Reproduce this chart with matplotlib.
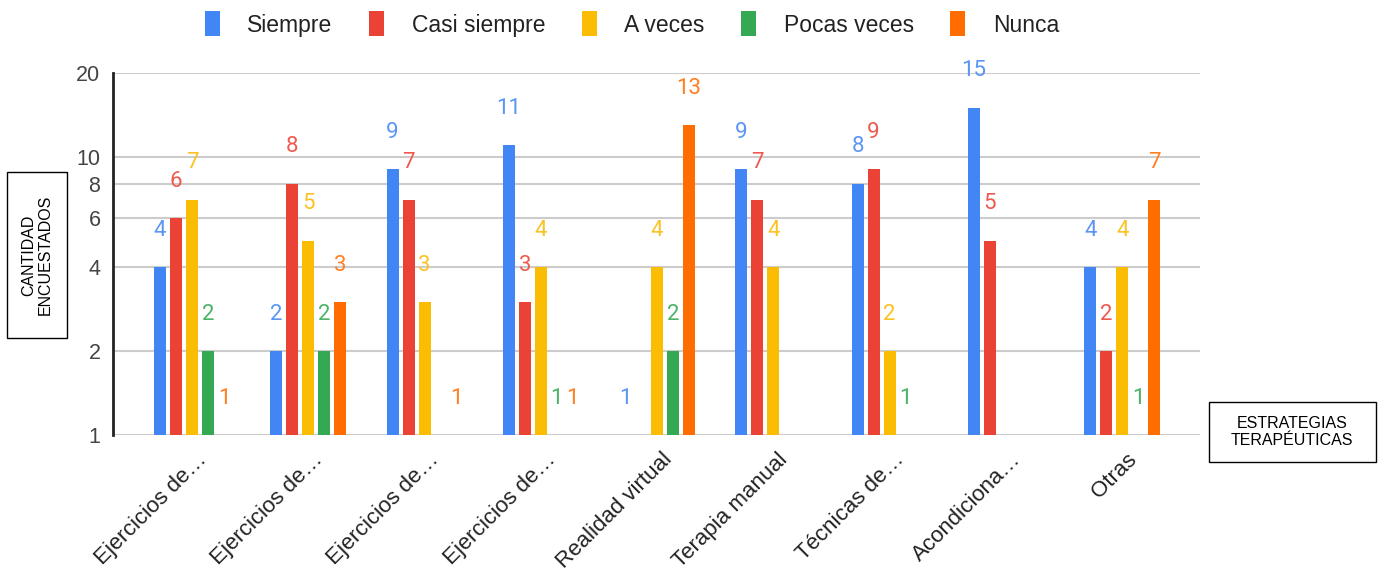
import matplotlib.pyplot as plt
import matplotlib.transforms as mtransforms
from matplotlib.patches import Rectangle
import numpy as np
from matplotlib.ticker import FixedLocator, FixedFormatter, NullLocator

categories = ['Ejercicios de…', 'Ejercicios de…', 'Ejercicios de…', 'Ejercicios de…',
              'Realidad virtual', 'Terapia manual', 'Técnicas de…', 'Acondiciona…', 'Otras']

series_names = ['Siempre', 'Casi siempre', 'A veces', 'Pocas veces', 'Nunca']
siempre = [4, 2, 9, 11, 1, 9, 8, 15, 4]
casi_siempre = [6, 8, 7, 3, None, 7, 9, 5, 2]
a_veces = [7, 5, 3, 4, 4, 4, 2, None, 4]
pocas_veces = [2, 2, None, 1, 2, None, 1, None, 1]
nunca = [1, 3, 1, 1, 13, None, None, None, 7]

y_ticks = [1, 2, 4, 6, 8, 10, 20]

colors = ['#4285F4', '#EA4335', '#FBBC04', '#34A853', '#FF6D01']
label_colors = ['#5B95F5', '#EE5A4F', '#FBC224', '#4CB366', '#FF7F22']

W, H = 1383, 573
fig = plt.figure(figsize=(W / 100, H / 100), dpi=100)
ax = fig.add_axes([0.0817, 0.2408, 0.7860, 0.6318])
ax.set_yscale('log')

x = np.arange(len(categories))
width = 0.103
step = 0.1376

all_series = [siempre, casi_siempre, a_veces, pocas_veces, nunca]
for i, (name, vals) in enumerate(zip(series_names, all_series)):
    xs = x + (i - 2) * step
    for xi, v in zip(xs, vals):
        if v is None:
            continue
        ax.bar(xi, v - 1, bottom=1, width=width, color=colors[i], zorder=3)
        ax.annotate(str(v), (xi, v), xytext=(0, 19), textcoords='offset points',
                    ha='center', va='bottom', fontsize=16, family='Roboto',
                    color=label_colors[i], zorder=4)
    # proxy for legend
    ax.bar(0, 0, bottom=1, width=0, color=colors[i], label=name)

ax.set_xlim(-0.68, 8.67)
ax.set_ylim(1, 20)
ax.yaxis.set_major_locator(FixedLocator(y_ticks))
ax.yaxis.set_major_formatter(FixedFormatter([str(t) for t in y_ticks]))
ax.yaxis.set_minor_locator(NullLocator())
ax.tick_params(axis='y', length=0, pad=9, labelsize=15.5, labelcolor='#444444')
for lab in ax.get_yticklabels():
    lab.set_family('Liberation Sans')

ax.set_xticks(x)
ax.set_xticklabels(categories, rotation=45, ha='right', va='top',
                   rotation_mode='anchor', fontsize=16, color='#222222',
                   family='Liberation Sans')
ax.tick_params(axis='x', length=0, pad=10)
shift = mtransforms.ScaledTranslation(4 / 100, 0, fig.dpi_scale_trans)
for lab in ax.get_xticklabels():
    lab.set_transform(lab.get_transform() + shift)

ax.grid(axis='y', color='#cccccc', linewidth=1.5, zorder=0)
for s in ['top', 'right', 'bottom']:
    ax.spines[s].set_visible(False)
ax.spines['left'].set_linewidth(2)
ax.spines['left'].set_color('#222222')

leg = fig.legend(loc='center', bbox_to_anchor=(632 / W, 1 - 24 / H), ncol=5, frameon=False,
                 prop={'family': 'Liberation Sans', 'size': 16.5},
                 handlelength=0.65, handleheight=1.3, handletextpad=1.2, columnspacing=1.6)
for t in leg.get_texts():
    t.set_color('#222222')

# axis title boxes
fig.add_artist(Rectangle((7 / W, 1 - 338 / H), 60 / W, 166 / H, transform=fig.transFigure,
                         facecolor='white', edgecolor='black', linewidth=1))
fig.text(37 / W, 1 - 255 / H, 'CANTIDAD\nENCUESTADOS', rotation=90, ha='center', va='center',
         fontsize=11.5, family='Liberation Sans', linespacing=1.1)
fig.add_artist(Rectangle((1209 / W, 1 - 462 / H), 167 / W, 60 / H, transform=fig.transFigure,
                         facecolor='white', edgecolor='black', linewidth=1))
fig.text(1292 / W, 1 - 432 / H, 'ESTRATEGIAS\nTERAPÉUTICAS', ha='center', va='center',
         fontsize=11.5, family='Liberation Sans', linespacing=1.1)

fig.savefig('out.png', dpi=100)
